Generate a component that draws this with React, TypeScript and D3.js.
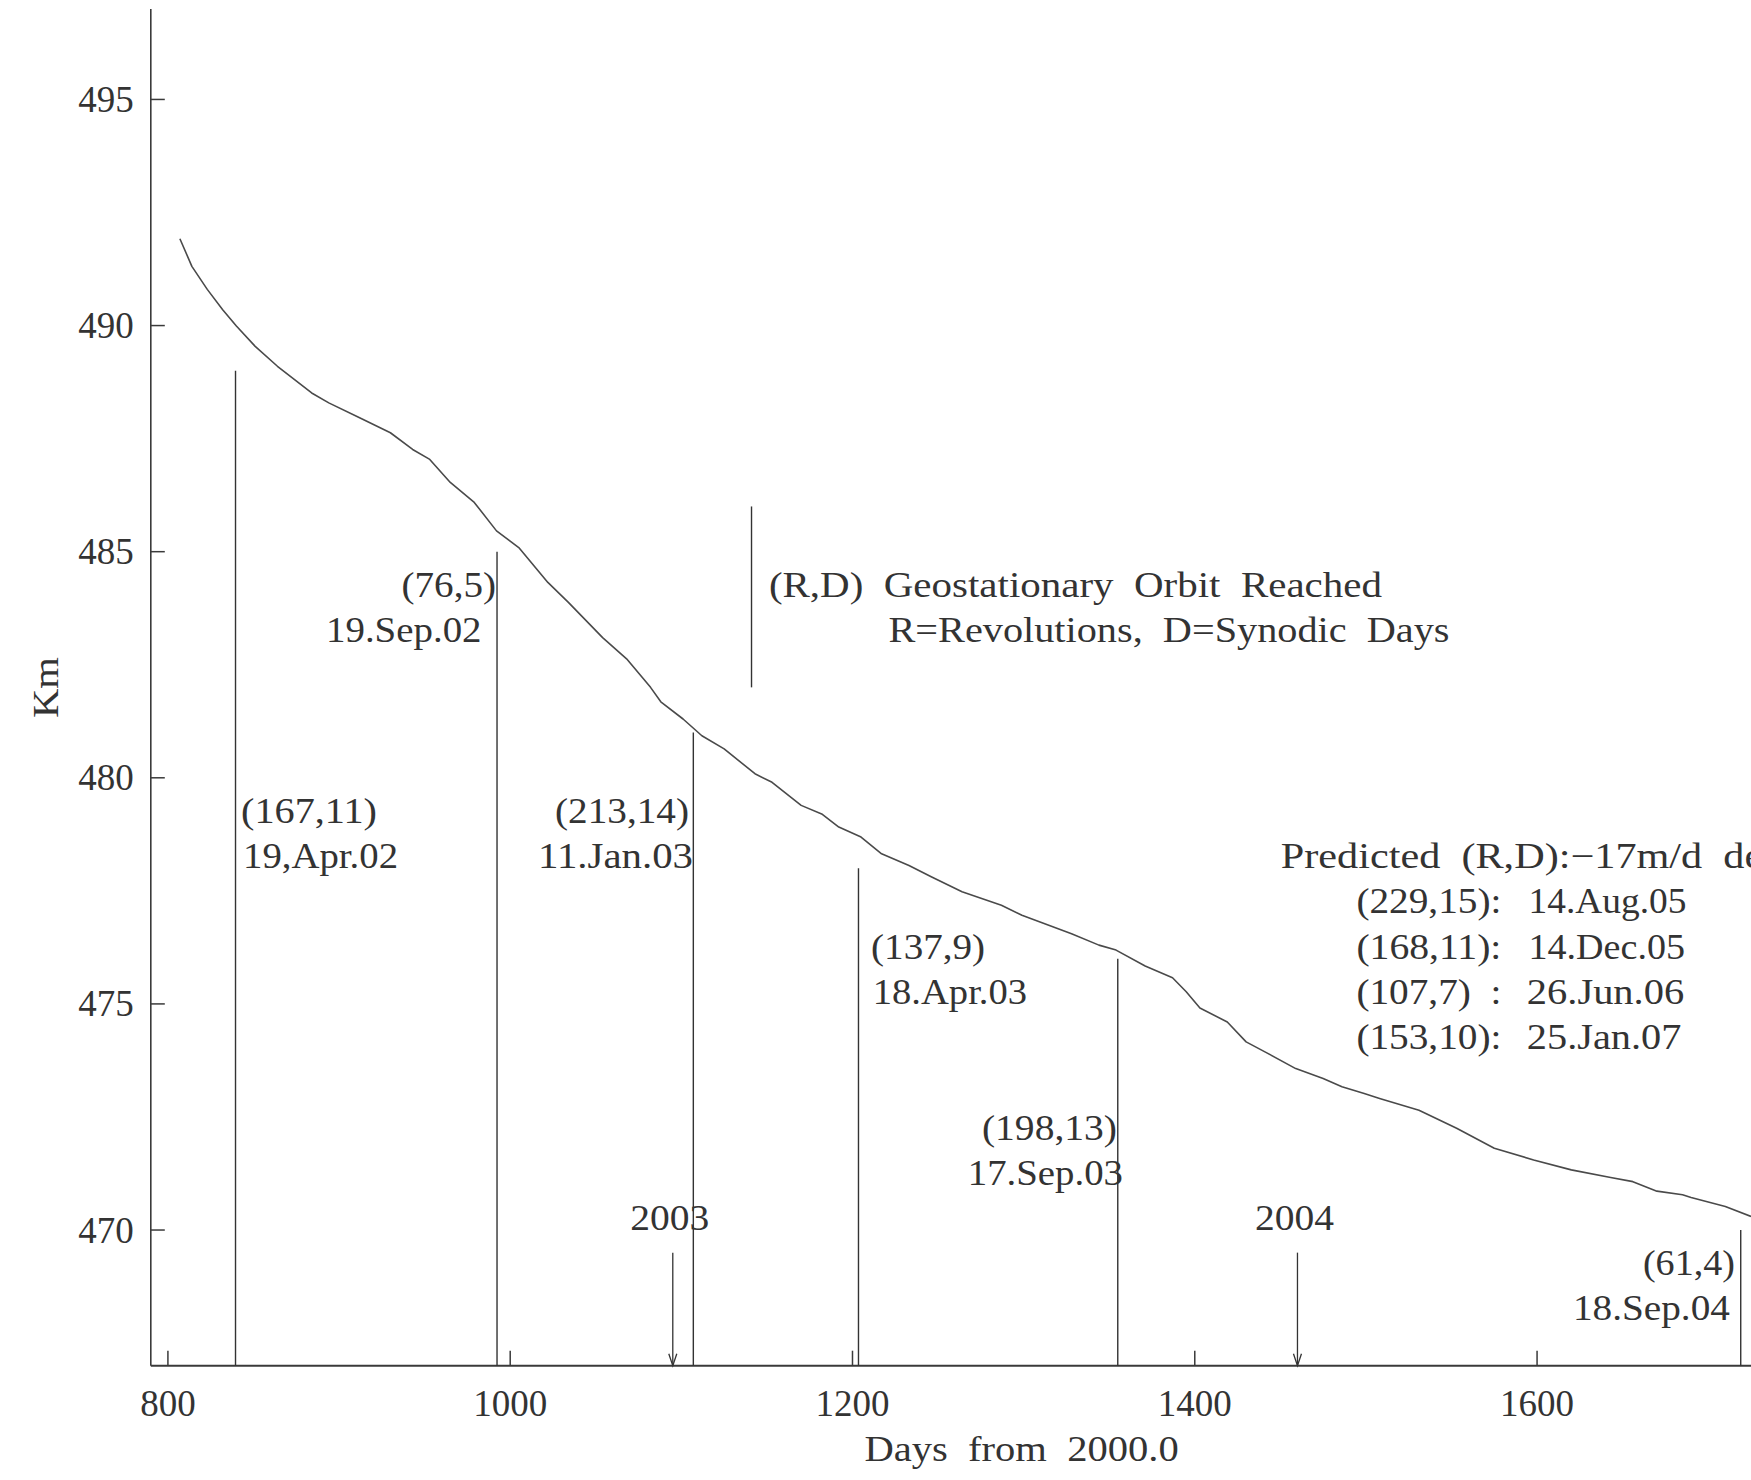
import React from 'react';
import * as d3 from 'd3';

// ---- data ----
const days = [807, 814, 823, 832, 840, 851, 864, 884, 894, 912, 930, 943, 953, 965, 979, 992, 1005, 1022, 1034, 1054, 1068, 1082, 1088, 1101, 1112, 1125, 1143, 1153, 1170, 1182, 1192, 1205, 1217, 1233, 1246, 1264, 1287, 1299, 1328, 1344, 1354, 1371, 1387, 1395, 1403, 1419, 1430, 1441, 1459, 1475, 1486, 1499, 1508, 1531, 1553, 1575, 1598, 1620, 1643, 1656, 1670, 1685, 1690, 1710, 1725];
const altitudeKm = [491.92, 491.31, 490.8, 490.35, 489.99, 489.54, 489.1, 488.51, 488.29, 487.96, 487.63, 487.26, 487.04, 486.53, 486.09, 485.46, 485.09, 484.32, 483.88, 483.1, 482.63, 482.0, 481.68, 481.3, 480.93, 480.64, 480.09, 479.9, 479.39, 479.2, 478.91, 478.69, 478.32, 478.06, 477.81, 477.48, 477.18, 476.96, 476.55, 476.3, 476.19, 475.84, 475.58, 475.27, 474.91, 474.6, 474.16, 473.94, 473.57, 473.35, 473.17, 473.02, 472.91, 472.65, 472.25, 471.81, 471.55, 471.33, 471.16, 471.07, 470.86, 470.78, 470.72, 470.52, 470.3];

const xTicks = [800, 1000, 1200, 1400, 1600];
const yTicks = [470, 475, 480, 485, 490, 495];

const eventDays = [839.5, 992.3, 1107, 1203.5, 1355, 1719];
const eventTopKm = [489, 485, 481, 478, 476, 470];
const eventCodes = ['(167,11)', '(76,5)', '(213,14)', '(137,9)', '(198,13)', '(61,4)'];
const eventDates = ['19,Apr.02', '19.Sep.02', '11.Jan.03', '18.Apr.03', '17.Sep.03', '18.Sep.04'];

const yearLabels = ['2003', '2004'];
const yearDays = [1095, 1460];

const legendDay = 1141;
const legendKm = [486, 482];

const predictedCodes = ['(229,15):', '(168,11):', '(107,7)  :', '(153,10):'];
const predictedDates = ['14.Aug.05', '14.Dec.05', '26.Jun.06', '25.Jan.07'];

// ---- layout ----
const W = 1751;
const H = 1480;
const FONT = "'Liberation Serif', 'Times New Roman', serif";
const INK = '#333333';

const x = d3.scaleLinear().domain([790, 1725]).range([150.8, 1751]);
const y = d3.scaleLinear().domain([467, 497]).range([1365.7, 9]);

const eventLabelKm = [479, 484, 479, 476, 472, 469];
const codeSpan = [[5.5, 141.5], [-95.5, -1], [-138.3, -4.3], [12.6, 126.6], [-135.8, -0.8], [-97.8, -5.8]];
const dateSpan = [[7.5, 162.5], [-171, -15.5], [-155.3, -0.3], [14.3, 168.6], [-150, 5.2], [-167.8, -10.8]];
const predDateX = [1528.5, 1528.5, 1526.8, 1526.8];
const predDateLen = [158, 156.5, 157.4, 154.6];

function T(props: { x0: number; len: number; y: number; size?: number; children: React.ReactNode }) {
  return (
    <text
      x={props.x0}
      y={props.y}
      textLength={props.len}
      lengthAdjust="spacingAndGlyphs"
      fontSize={props.size ?? 36}
      fontFamily={FONT}
      fill={INK}
      style={{ whiteSpace: 'pre' }}
    >
      {props.children}
    </text>
  );
}

export default function App() {
  const line = d3
    .line<number>()
    .x((_, i) => x(days[i]))
    .y((d) => y(d))
    .curve(d3.curveLinear);

  const x0 = x(790);
  const yBottom = y(467);
  const yTop = y(497);

  return (
    <svg
      width={W}
      height={H}
      viewBox={`0 0 ${W} ${H}`}
      style={{ position: 'absolute', left: 0, top: 0, background: '#fff', overflow: 'hidden' }}
    >
      <rect x={0} y={0} width={W} height={H} fill="#fff" />

      {/* axes */}
      <line x1={x0} x2={x0} y1={yTop} y2={yBottom} stroke="#3a3a3a" strokeWidth={1.6} />
      <line x1={x0} x2={W} y1={yBottom} y2={yBottom} stroke="#3a3a3a" strokeWidth={2} />

      {yTicks.map((t) => (
        <g key={'yt' + t}>
          <line x1={x0} x2={x0 + 14} y1={y(t)} y2={y(t)} stroke="#3a3a3a" strokeWidth={1.5} />
          <text x={x0 - 17} y={y(t) + 12.5} textAnchor="end" fontSize={37} fontFamily={FONT} fill={INK}>
            {t}
          </text>
        </g>
      ))}

      {xTicks.map((t) => (
        <g key={'xt' + t}>
          <line x1={x(t)} x2={x(t)} y1={yBottom} y2={yBottom - 15} stroke="#3a3a3a" strokeWidth={1.5} />
          <text x={x(t)} y={y(466) + 5} textAnchor="middle" fontSize={37} fontFamily={FONT} fill={INK}>
            {t}
          </text>
        </g>
      ))}

      {/* axis titles */}
      <T x0={864.4} len={314.3} y={y(465) + 5}>
        {'Days  from  2000.0'}
      </T>
      <text
        transform={`translate(58, 687.5) rotate(-90)`}
        textAnchor="middle"
        fontSize={36}
        fontFamily={FONT}
        fill={INK}
        textLength={61}
        lengthAdjust="spacingAndGlyphs"
      >
        Km
      </text>

      {/* altitude curve */}
      <path d={line(altitudeKm) ?? ''} fill="none" stroke="#4a4a4a" strokeWidth={1.6} strokeLinejoin="round" />

      {/* events */}
      {eventDays.map((d, i) => {
        const lx = x(d);
        return (
          <g key={'ev' + i}>
            <line x1={lx} x2={lx} y1={y(eventTopKm[i])} y2={yBottom} stroke="#333" strokeWidth={1.4} />
            <T x0={lx + codeSpan[i][0]} len={codeSpan[i][1] - codeSpan[i][0]} y={y(eventLabelKm[i])}>
              {eventCodes[i]}
            </T>
            <T x0={lx + dateSpan[i][0]} len={dateSpan[i][1] - dateSpan[i][0]} y={y(eventLabelKm[i] - 1)}>
              {eventDates[i]}
            </T>
          </g>
        );
      })}

      {/* year arrows */}
      {yearDays.map((d, i) => {
        const ax = x(d);
        return (
          <g key={'yr' + i}>
            <line x1={ax} x2={ax} y1={y(469.5)} y2={yBottom} stroke="#333" strokeWidth={1.3} />
            <path
              d={`M${ax - 4},${yBottom - 12} L${ax},${yBottom} L${ax + 4},${yBottom - 12}`}
              fill="none"
              stroke="#333"
              strokeWidth={1.3}
            />
            <T x0={ax - 42.5} len={79} y={y(470)}>
              {yearLabels[i]}
            </T>
          </g>
        );
      })}

      {/* legend */}
      <line x1={x(legendDay)} x2={x(legendDay)} y1={y(legendKm[0])} y2={y(legendKm[1])} stroke="#333" strokeWidth={1.4} />
      <T x0={768.9} len={613} y={y(484)}>
        {'(R,D)  Geostationary  Orbit  Reached'}
      </T>
      <T x0={888.5} len={561} y={y(483)}>
        {'R=Revolutions,  D=Synodic  Days'}
      </T>

      {/* predicted block */}
      <T x0={1280.8} len={541} y={y(478)}>
        {'Predicted  (R,D):\u221217m/d  decay'}
      </T>
      {predictedCodes.map((c, i) => (
        <g key={'pr' + i}>
          <T x0={1356.4} len={145} y={y(477 - i)}>
            {c}
          </T>
          <T x0={predDateX[i]} len={predDateLen[i]} y={y(477 - i)}>
            {predictedDates[i]}
          </T>
        </g>
      ))}
    </svg>
  );
}
